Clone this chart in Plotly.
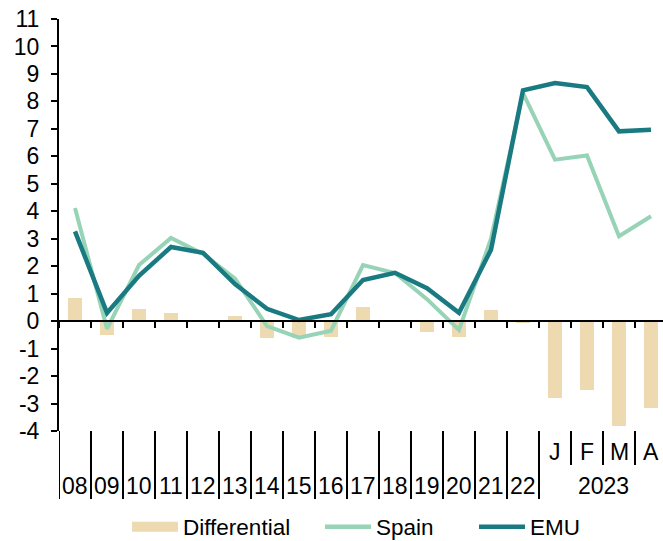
import plotly.graph_objects as go

categories = ["08", "09", "10", "11", "12", "13", "14", "15", "16", "17", "18", "19", "20", "21", "22",
              "J", "F", "M", "A"]
spain = [4.12, -0.28, 2.04, 3.03, 2.45, 1.55, -0.18, -0.6, -0.35, 2.04, 1.75, 0.8, -0.32, 3.0, 8.3,
         5.88, 6.03, 3.09, 3.82]
emu = [3.27, 0.3, 1.65, 2.7, 2.49, 1.35, 0.45, 0.04, 0.25, 1.5, 1.76, 1.2, 0.3, 2.6, 8.4,
       8.67, 8.52, 6.91, 6.97]
differential = [0.85, -0.52, 0.43, 0.31, -0.03, 0.18, -0.62, -0.62, -0.58, 0.51, -0.02, -0.4, -0.58, 0.4, -0.08,
                -2.79, -2.51, -3.82, -3.15]
year_labels = ["08", "09", "10", "11", "12", "13", "14", "15", "16", "17", "18", "19", "20", "21", "22"]
month_labels = ["J", "F", "M", "A"]
group_label = "2023"
y_ticks = list(range(-4, 12))
y_ticktext = [str(v) for v in y_ticks]

C_BAR = "#EEDAB1"
C_SPAIN = "#97D3B6"
C_EMU = "#1A7A82"
FONT = "Liberation Sans, Arial, sans-serif"
FS_Y = 23
FS_X = 23
FS_LEG = 22.5

W, H = 663, 541
M_L, M_R, M_T, M_B = 59, 0, 19, 110
plot_h = H - M_T - M_B
plot_w = W - M_L - M_R
cat_px = 32.0


def py(p):
    return (H - M_B - p) / plot_h


def px(p):
    return (p - M_L) / plot_w


n = len(categories)
xs = list(range(n))

fig = go.Figure()
fig.add_trace(go.Bar(x=xs, y=differential, name="Differential", marker_color=C_BAR,
                     marker_line_width=0, width=0.42, showlegend=False))
fig.add_trace(go.Scatter(x=xs, y=spain, name="Spain", mode="lines",
                         line=dict(color=C_SPAIN, width=4), showlegend=False))
fig.add_trace(go.Scatter(x=xs, y=emu, name="EMU", mode="lines",
                         line=dict(color=C_EMU, width=4.5), showlegend=False))

# legend proxies
fig.add_trace(go.Scatter(x=[None], y=[None], name="Differential", mode="lines",
                         line=dict(color=C_BAR, width=12), legend="legend"))
fig.add_trace(go.Scatter(x=[None], y=[None], name="Spain", mode="lines",
                         line=dict(color=C_SPAIN, width=4.5), legend="legend2"))
fig.add_trace(go.Scatter(x=[None], y=[None], name="EMU", mode="lines",
                         line=dict(color=C_EMU, width=4.5), legend="legend3"))

x_max = -0.5 + plot_w / cat_px

fig.update_layout(
    width=W, height=H,
    margin=dict(l=M_L, r=M_R, t=M_T, b=M_B, pad=0, autoexpand=False),
    plot_bgcolor="white", paper_bgcolor="white",
    font=dict(family=FONT, size=FS_Y, color="black"),
    bargap=0,
    xaxis=dict(range=[-0.5, x_max], tickmode="array", tickvals=[i - 0.5 for i in range(n + 1)],
               ticktext=[""] * (n + 1), showticklabels=False, automargin=False,
               anchor="free", position=4 / 15, showline=True, linecolor="black", linewidth=2,
               ticks="outside", ticklen=6, tickwidth=2, tickcolor="black",
               showgrid=False, zeroline=False, fixedrange=True),
    yaxis=dict(range=[-4, 11], tickmode="array", tickvals=y_ticks, ticktext=y_ticktext,
               showline=True, linecolor="black", linewidth=2, automargin=False,
               ticks="outside", ticklen=6, tickwidth=2, tickcolor="black",
               showgrid=False, zeroline=False, ticklabelstandoff=7,
               tickfont=dict(size=FS_Y), fixedrange=True),
    legend=dict(orientation="h", x=px(127), y=py(527), xanchor="left", yanchor="middle",
                itemwidth=46, font=dict(size=FS_LEG), bgcolor="rgba(0,0,0,0)"),
    legend2=dict(orientation="h", x=px(320), y=py(527), xanchor="left", yanchor="middle",
                 itemwidth=46, font=dict(size=FS_LEG), bgcolor="rgba(0,0,0,0)"),
    legend3=dict(orientation="h", x=px(474), y=py(527), xanchor="left", yanchor="middle",
                 itemwidth=46, font=dict(size=FS_LEG), bgcolor="rgba(0,0,0,0)"),
)

shapes = []
annotations = []
for i in range(len(year_labels) + 1):
    shapes.append(dict(type="line", xref="x", yref="paper", x0=i - 0.5, x1=i - 0.5,
                       y0=0, y1=py(499), line=dict(color="black", width=2)))
for j in range(1, len(month_labels)):
    b = len(year_labels) + j - 0.5
    shapes.append(dict(type="line", xref="x", yref="paper", x0=b, x1=b,
                       y0=0, y1=py(465), line=dict(color="black", width=2)))
for i, lab in enumerate(year_labels):
    annotations.append(dict(x=i, y=py(486), xref="x", yref="paper", text=lab, showarrow=False,
                            xanchor="center", yanchor="middle", font=dict(size=FS_X)))
for j, lab in enumerate(month_labels):
    annotations.append(dict(x=len(year_labels) + j, y=py(452), xref="x", yref="paper", text=lab,
                            showarrow=False, xanchor="center", yanchor="middle", font=dict(size=FS_X)))
annotations.append(dict(x=len(year_labels) + (len(month_labels) - 1) / 2, y=py(486), xref="x",
                        yref="paper", text=group_label, showarrow=False, xanchor="center",
                        yanchor="middle", font=dict(size=FS_X)))
fig.update_layout(shapes=shapes, annotations=annotations)

fig.write_html("out.html", config={"displayModeBar": False},
               post_script="document.body.style.margin='0';document.body.style.overflow='hidden';")
